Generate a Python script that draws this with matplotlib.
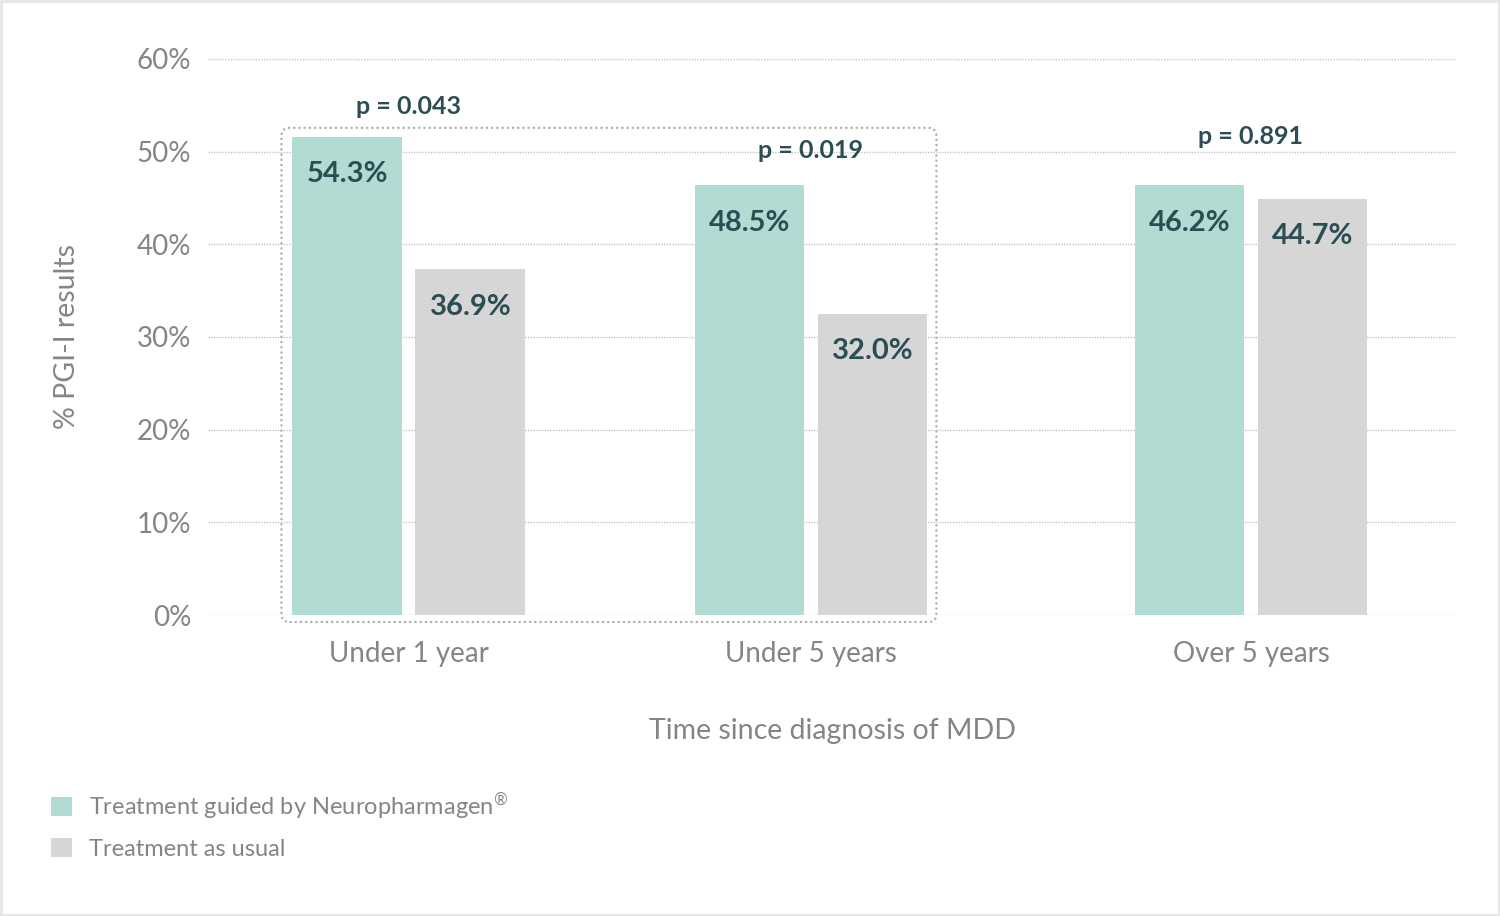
import numpy as np
import matplotlib.pyplot as plt
from matplotlib.patches import FancyBboxPatch, Rectangle
from matplotlib.transforms import IdentityTransform

# Data
categories = ['Under 1 year', 'Under 5 years', 'Over 5 years']
guided_labels = ['54.3%', '48.5%', '46.2%']
usual_labels = ['36.9%', '32.0%', '44.7%']
# bar heights as drawn in the picture (% of axis)
guided_heights = [51.6, 46.4, 46.4]
usual_heights = [37.3, 32.5, 44.9]
p_values = ['p = 0.043', 'p = 0.019', 'p = 0.891']
p_label_y = [54.9, 50.1, 51.6]
y_ticks = [0, 10, 20, 30, 40, 50, 60]

# layout: the groups are not quite evenly spaced in the original
group_pos = np.array([0, 0.955, 2])

TEAL = '#b2dbd3'
GREY = '#d5d6d5'
DARK = '#2b4d53'
TEXT = '#858585'
FONT = ['Lato', 'DejaVu Sans']

plt.rcParams['font.family'] = FONT
plt.rcParams['mathtext.fontset'] = 'custom'
plt.rcParams['mathtext.rm'] = 'Lato'

fig = plt.figure(figsize=(15, 9.16), dpi=100)
ax = fig.add_axes([0.1387, 0.3286, 0.832, 0.607])

w = 0.261
off = 0.146

ax.set_axisbelow(True)
ax.yaxis.grid(True, linestyle=(0, (1, 1)), color='#c4c4c4', linewidth=1.0)
b1 = ax.bar(group_pos - off, guided_heights, w, color=TEAL,
            label=r'Treatment guided by Neuropharmagen$^{\mathrm{®}}$', zorder=2)
b2 = ax.bar(group_pos + off, usual_heights, w, color=GREY, label='Treatment as usual', zorder=2)

for bars, labels in [(b1, guided_labels), (b2, usual_labels)]:
    for rect, lab in zip(bars, labels):
        ax.annotate(lab, (rect.get_x() + rect.get_width() / 2, rect.get_height()),
                    xytext=(0, -27), textcoords='offset points', ha='center', va='center',
                    fontsize=21, fontweight='bold', color=DARK, zorder=3)

for xi, p, py in zip(group_pos, p_values, p_label_y):
    ax.text(xi, py, p, ha='center', va='center', fontsize=18, fontweight='bold', color=DARK)

ax.set_xlim(-0.477, 2.487)
ax.set_ylim(0, 60)
ax.set_yticks(y_ticks)
ax.set_yticklabels([f'{t}%' for t in y_ticks])
ax.set_xticks(group_pos)
ax.set_xticklabels(categories)
ax.tick_params(axis='both', length=0, labelsize=20, labelcolor=TEXT)
ax.tick_params(axis='y', pad=12)
ax.tick_params(axis='x', pad=19)
for s in ax.spines.values():
    s.set_visible(False)

ax.set_xlabel('Time since diagnosis of MDD', fontsize=20.5, color=TEXT)
ax.set_ylabel('% PGI-I results', fontsize=20.5, color=TEXT)
ax.xaxis.set_label_coords(0.5, -0.185)
ax.yaxis.set_label_coords(-0.103, 0.5)

# dotted rounded box around the first two groups
fig.canvas.draw()
x0 = b1[0].get_x()
x1 = b2[1].get_x() + b2[1].get_width()
top = guided_heights[0]
(px0, py0) = ax.transData.transform((x0, 0))
(px1, py1) = ax.transData.transform((x1, top))
box = FancyBboxPatch((px0 - 11, py0 - 7), (px1 - px0) + 20, (py1 - py0) + 16,
                     boxstyle='round,pad=0,rounding_size=8', transform=IdentityTransform(),
                     fill=False, edgecolor='#a9a9a9', linestyle=(0, (1, 1.5)), linewidth=1.5,
                     zorder=4, clip_on=False)
fig.patches.append(box)

# legend
leg = fig.legend(handles=[b1, b2], loc='upper left', bbox_to_anchor=(0.028, 0.148),
                 frameon=False, fontsize=17, labelcolor=TEXT, handlelength=0.85,
                 handleheight=0.85, handletextpad=0.75, labelspacing=0.7, borderaxespad=0)

# thin frame around the figure
fig.patches.append(Rectangle((0.0007, 0.001), 0.9986, 0.998, transform=fig.transFigure,
                             fill=False, edgecolor='#e6e6e6', linewidth=2))

fig.savefig('out.png', dpi=100)
